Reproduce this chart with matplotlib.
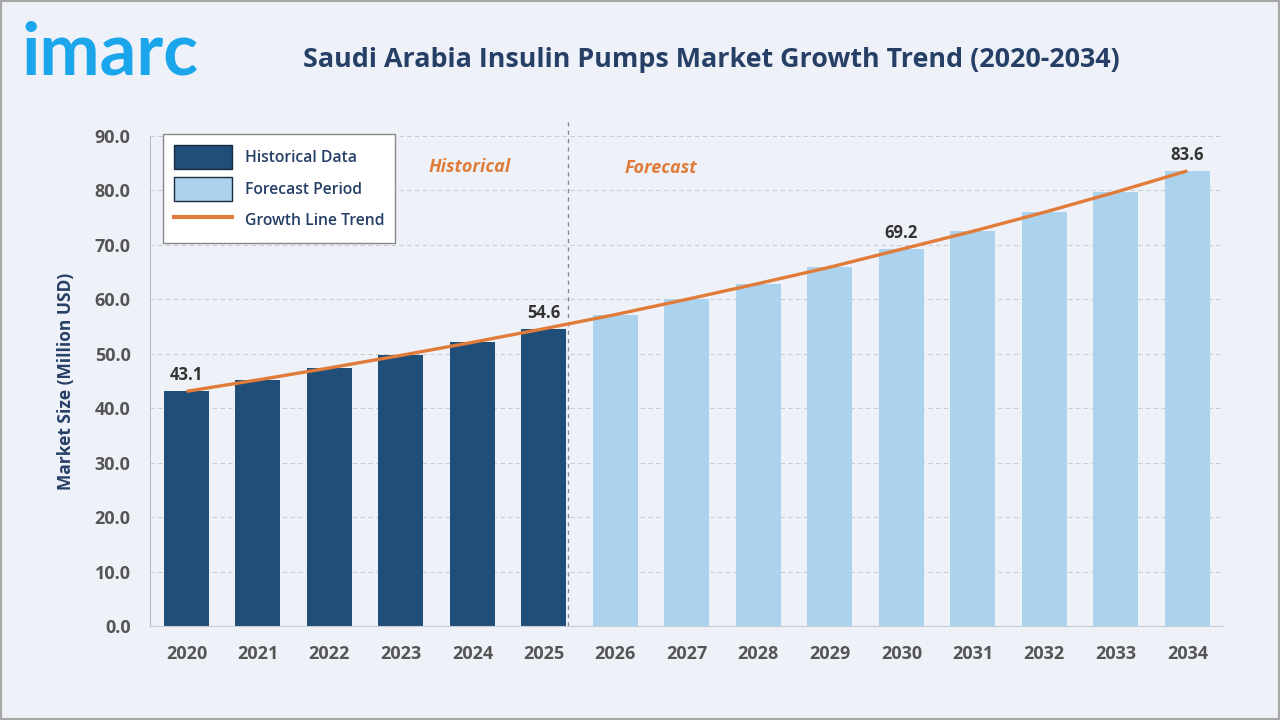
import matplotlib
matplotlib.use("Agg")
import matplotlib.pyplot as plt
from matplotlib.patches import Patch, Rectangle
from matplotlib.lines import Line2D

years = ["2020", "2021", "2022", "2023", "2024", "2025", "2026", "2027",
         "2028", "2029", "2030", "2031", "2032", "2033", "2034"]
values = [43.1, 45.2, 47.4, 49.7, 52.1, 54.6, 57.2, 60.0, 62.9, 65.9,
          69.2, 72.5, 76.0, 79.7, 83.6]
n_hist = 6
labelled = ["2020", "2025", "2030", "2034"]
yticks = [0, 10, 20, 30, 40, 50, 60, 70, 80, 90]

BG = "#eef2f8"
DARK = "#1f4e79"
LIGHT = "#abd3ee"
ORANGE = "#e07b39"
NAVY = "#253f66"
FONT = "Open Sans"

plt.rcParams["font.family"] = [FONT, "DejaVu Sans"]

fig = plt.figure(figsize=(12.8, 7.2), dpi=100, facecolor=BG)
ax = fig.add_axes([0.1172, 0.1306, 0.8383, 0.6805])
ax.set_facecolor("none")

x = list(range(len(years)))
colors = [DARK if i < n_hist else LIGHT for i in x]
ax.bar(x, values, width=0.63, color=colors, zorder=2)
ax.plot(x, values, color=ORANGE, lw=2.4, zorder=3, solid_capstyle="butt")

for i, (yr, v) in enumerate(zip(years, values)):
    if yr in labelled:
        ax.text(i, v + 1.3, f"{v:.1f}", ha="center", va="bottom",
                fontsize=12, fontweight="bold", color="#333333", zorder=4)

ax.set_xlim(-0.51, 14.5)
ax.set_ylim(0, 90)
ax.set_yticks(yticks)
ax.set_yticklabels([f"{t:.1f}" for t in yticks])
ax.set_xticks(x)
ax.set_xticklabels(years)
ax.tick_params(axis="both", length=0, labelsize=13, labelcolor="#555555")
ax.tick_params(axis="x", pad=14)
ax.tick_params(axis="y", pad=14)
for lab in ax.get_xticklabels() + ax.get_yticklabels():
    lab.set_fontweight("bold")

ax.grid(axis="y", color="#c8ccd4", linestyle=(0, (4, 3)), lw=0.8, zorder=0)
for s in ["top", "right"]:
    ax.spines[s].set_visible(False)
ax.spines["left"].set_color("#b8bcc4")
ax.spines["bottom"].set_color("#c8ccd4")

ax.set_ylabel("Market Size (Million USD)", fontsize=12.5, fontweight="bold",
              color=NAVY, labelpad=14)

# divider line between historical and forecast
div_x = n_hist - 0.66
ax.plot([div_x, div_x], [0, 93], color="#888888",
        lw=1.0, linestyle=(0, (3, 3)), clip_on=False, zorder=1)

ax.text(3.96, 84.3, "Historical", ha="center", va="center", fontsize=13,
        fontweight="bold", style="italic", color=ORANGE)
ax.text(6.64, 84.1, "Forecast", ha="center", va="center", fontsize=13,
        fontweight="bold", style="italic", color=ORANGE)

handles = [
    Patch(facecolor=DARK, edgecolor="#1a2a40", lw=1.0, label="Historical Data"),
    Patch(facecolor=LIGHT, edgecolor="#1a2a40", lw=1.0, label="Forecast Period"),
    Line2D([0], [0], color=ORANGE, lw=3, label="Growth Line Trend"),
]
leg = ax.legend(handles=handles, loc="upper left", bbox_to_anchor=(0.012, 1.004),
                frameon=True, fancybox=False, edgecolor="#888888",
                facecolor="white", framealpha=1, fontsize=11.3,
                handlelength=3.7, handleheight=1.975, handletextpad=0.83,
                labelspacing=0.48, borderpad=0.7, borderaxespad=0)
leg.get_frame().set_linewidth(1.0)
for t in leg.get_texts():
    t.set_color(NAVY)
    t.set_fontweight("semibold")

fig.text(0.556, 0.916, "Saudi Arabia Insulin Pumps Market Growth Trend (2020-2034)",
         ha="center", va="center", fontsize=19.4, fontweight="bold", color=NAVY)
fig.text(0.017, 0.896, "imarc", ha="left", va="baseline", fontsize=52,
         fontweight="bold", color="#1ba6ec", family=["Lato", "DejaVu Sans"])

fig.patches.append(Rectangle((0, 0), 1, 1, transform=fig.transFigure,
                             fill=False, edgecolor="#a6a6a6", lw=3))

fig.savefig("out.png", dpi=100, facecolor=BG)
